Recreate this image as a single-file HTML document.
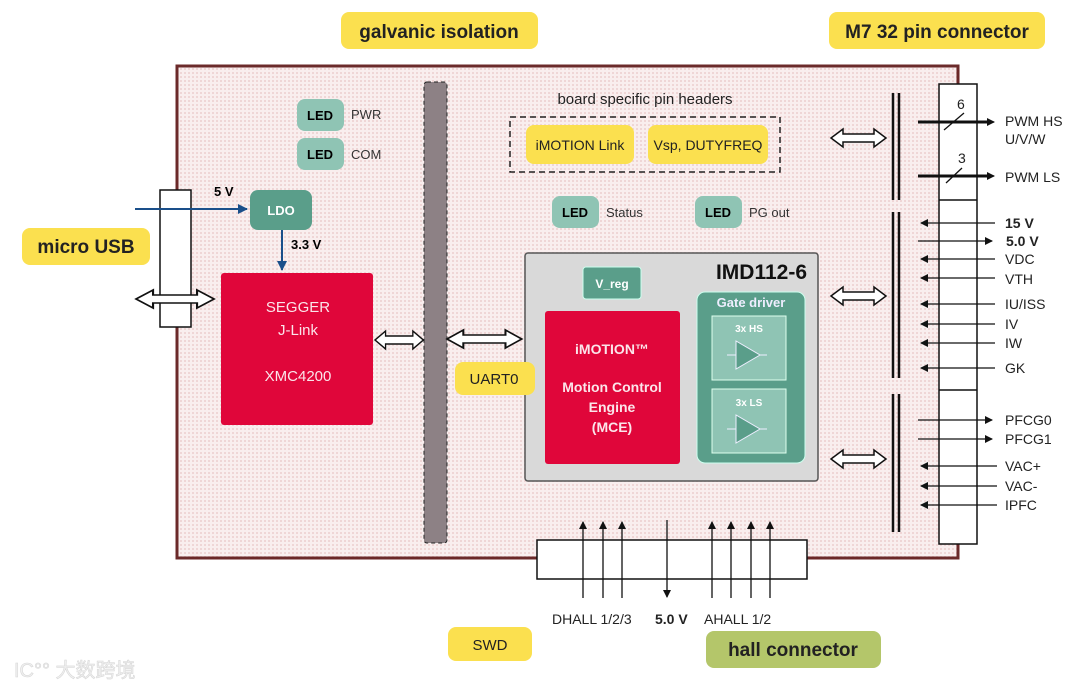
<!DOCTYPE html>
<html><head><meta charset="utf-8"><style>
html,body{margin:0;padding:0;background:#fff;width:1080px;height:691px;overflow:hidden}
svg{display:block}
text{font-family:"Liberation Sans","Noto Sans CJK SC",sans-serif}
</style></head><body>
<svg width="1080" height="691" viewBox="0 0 1080 691" xmlns="http://www.w3.org/2000/svg">
<defs>
<pattern id="dots" width="4" height="4" patternUnits="userSpaceOnUse">
<rect width="4" height="4" fill="#f9eeee"/><rect width="2" height="2" fill="#efd6d6"/>
</pattern>
<marker id="ab" markerWidth="8" markerHeight="8" refX="7" refY="4" orient="auto" markerUnits="userSpaceOnUse"><path d="M0,0 L8,4 L0,8z" fill="#111"/></marker>
<marker id="abl" markerWidth="10" markerHeight="10" refX="9" refY="5" orient="auto" markerUnits="userSpaceOnUse"><path d="M0,0 L10,5 L0,10z" fill="#1a4f8a"/></marker>
<g id="dbl"><path d="M0,0 l12,-9 v5 h31 v-5 l12,9 l-12,9 v-5 h-31 v5z" fill="#fff" stroke="#111" stroke-width="1.5"/></g>
</defs>

<!-- board -->
<rect x="177" y="66" width="781" height="492" fill="url(#dots)" stroke="#6b2a2a" stroke-width="3"/>

<!-- labels top -->
<rect x="341" y="12" width="197" height="37" rx="8" fill="#fbe04f"/>
<text x="439" y="38" font-size="19" font-weight="bold" text-anchor="middle" fill="#222">galvanic isolation</text>
<rect x="829" y="12" width="216" height="37" rx="8" fill="#fbe04f"/>
<text x="937" y="38" font-size="19" font-weight="bold" text-anchor="middle" fill="#222">M7 32 pin connector</text>
<rect x="22" y="228" width="128" height="37" rx="8" fill="#fbe04f"/>
<text x="86" y="253" font-size="19" font-weight="bold" text-anchor="middle" fill="#222">micro USB</text>
<rect x="448" y="627" width="84" height="34" rx="8" fill="#fbe04f"/>
<text x="490" y="650" font-size="15" text-anchor="middle" fill="#222">SWD</text>
<rect x="706" y="631" width="175" height="37" rx="8" fill="#b4c66a"/>
<text x="793" y="656" font-size="19" font-weight="bold" text-anchor="middle" fill="#222">hall connector</text>

<!-- LEDs -->
<g font-size="13">
<rect x="297" y="99" width="47" height="32" rx="8" fill="#8fc4b4"/><text x="320" y="120" font-weight="bold" text-anchor="middle">LED</text><text x="351" y="119" fill="#333">PWR</text>
<rect x="297" y="138" width="47" height="32" rx="8" fill="#8fc4b4"/><text x="320" y="159" font-weight="bold" text-anchor="middle">LED</text><text x="351" y="159" fill="#333">COM</text>
<rect x="552" y="196" width="47" height="32" rx="8" fill="#8fc4b4"/><text x="575" y="217" font-weight="bold" text-anchor="middle">LED</text><text x="606" y="217" fill="#333">Status</text>
<rect x="695" y="196" width="47" height="32" rx="8" fill="#8fc4b4"/><text x="718" y="217" font-weight="bold" text-anchor="middle">LED</text><text x="749" y="217" fill="#333">PG out</text>
</g>

<!-- micro usb connector -->
<rect x="160" y="190" width="31" height="137" fill="#fff" stroke="#111" stroke-width="1.5"/>
<use href="#dbl" transform="translate(136,299) scale(1.42,1)"/>

<!-- LDO -->
<rect x="250" y="190" width="62" height="40" rx="8" fill="#5a9e8a"/>
<text x="281" y="215" font-size="13" font-weight="bold" fill="#fff" text-anchor="middle">LDO</text>
<line x1="135" y1="209" x2="247" y2="209" stroke="#1a4f8a" stroke-width="2" marker-end="url(#abl)"/>
<text x="214" y="196" font-size="13" font-weight="bold">5 V</text>
<line x1="282" y1="230" x2="282" y2="270" stroke="#1a4f8a" stroke-width="2" marker-end="url(#abl)"/>
<text x="291" y="249" font-size="13" font-weight="bold">3.3 V</text>

<!-- SEGGER -->
<rect x="221" y="273" width="152" height="152" rx="3" fill="#e0063a"/>
<g fill="#fbe5ea" font-size="15" text-anchor="middle">
<text x="298" y="312">SEGGER</text><text x="298" y="335">J-Link</text><text x="298" y="381">XMC4200</text></g>

<!-- isolation bar -->
<rect x="424" y="82" width="23" height="461" rx="3" fill="#8d8185" stroke="#222" stroke-width="1" stroke-dasharray="4,3"/>
<use href="#dbl" transform="translate(375,340) scale(0.88,1)"/>
<use href="#dbl" transform="translate(447,339) scale(1.36,1)"/>

<!-- pin headers -->
<text x="645" y="104" font-size="15" text-anchor="middle" fill="#222">board specific pin headers</text>
<rect x="510" y="117" width="270" height="55" fill="none" stroke="#222" stroke-width="1.5" stroke-dasharray="6,4"/>
<rect x="526" y="125" width="108" height="39" rx="8" fill="#fbe04f"/>
<text x="580" y="150" font-size="14" text-anchor="middle" fill="#222">iMOTION Link</text>
<rect x="648" y="125" width="120" height="39" rx="8" fill="#fbe04f"/>
<text x="708" y="150" font-size="14" text-anchor="middle" fill="#222">Vsp, DUTYFREQ</text>

<!-- IMD -->
<rect x="525" y="253" width="293" height="228" rx="3" fill="#d9d9d9" stroke="#555" stroke-width="1.5"/>
<text x="807" y="279" font-size="21" font-weight="bold" text-anchor="end" fill="#111">IMD112-6</text>
<rect x="583" y="267" width="58" height="32" rx="3" fill="#5a9e8a" stroke="#cfe" stroke-width="1"/>
<text x="612" y="288" font-size="12" font-weight="bold" fill="#fff" text-anchor="middle">V_reg</text>
<rect x="545" y="311" width="135" height="153" rx="3" fill="#e0063a"/>
<g fill="#fbe5ea" font-size="14" font-weight="bold" text-anchor="middle">
<text x="612" y="354">iMOTION™</text><text x="612" y="392">Motion Control</text><text x="612" y="412">Engine</text><text x="612" y="432">(MCE)</text></g>
<rect x="697" y="292" width="108" height="171" rx="8" fill="#5a9e8a" stroke="#cfe" stroke-width="1"/>
<text x="751" y="307" font-size="13" font-weight="bold" fill="#eef" text-anchor="middle">Gate driver</text>
<rect x="712" y="316" width="74" height="64" fill="#8fc4b4" stroke="#dfe" stroke-width="1"/>
<text x="749" y="332" font-size="10" font-weight="bold" fill="#fff" text-anchor="middle">3x HS</text>
<path d="M727,355 h9 M736,341 v28 l24,-14z M760,355 h7" fill="#5a9e8a" stroke="#eef" stroke-width="1"/>
<rect x="712" y="389" width="74" height="64" fill="#8fc4b4" stroke="#dfe" stroke-width="1"/>
<text x="749" y="406" font-size="10" font-weight="bold" fill="#fff" text-anchor="middle">3x LS</text>
<path d="M727,429 h9 M736,415 v28 l24,-14z M760,429 h7" fill="#5a9e8a" stroke="#eef" stroke-width="1"/>

<rect x="455" y="362" width="80" height="33" rx="8" fill="#fbe04f"/>
<text x="494" y="384" font-size="15" text-anchor="middle" fill="#222">UART0</text>

<!-- right side double arrows & bars -->
<use href="#dbl" transform="translate(831,138)"/>
<use href="#dbl" transform="translate(831,296)"/>
<use href="#dbl" transform="translate(831,459)"/>
<g stroke="#111" stroke-width="2.5">
<line x1="893" y1="93" x2="893" y2="200"/><line x1="899" y1="93" x2="899" y2="200"/>
<line x1="893" y1="212" x2="893" y2="378"/><line x1="899" y1="212" x2="899" y2="378"/>
<line x1="893" y1="394" x2="893" y2="532"/><line x1="899" y1="394" x2="899" y2="532"/>
</g>

<!-- connector -->
<rect x="939" y="84" width="38" height="460" fill="#fff" stroke="#111" stroke-width="1.5"/>
<line x1="939" y1="200" x2="977" y2="200" stroke="#111" stroke-width="1.5"/>
<line x1="939" y1="390" x2="977" y2="390" stroke="#111" stroke-width="1.5"/>
<g stroke="#111" stroke-width="1.3">
<line x1="918" y1="122" x2="990" y2="122" stroke-width="3"/><line x1="918" y1="122" x2="994" y2="122" marker-end="url(#ab)"/>
<line x1="944" y1="130" x2="964" y2="113"/>
<line x1="918" y1="176" x2="990" y2="176" stroke-width="3"/><line x1="918" y1="176" x2="994" y2="176" marker-end="url(#ab)"/>
<line x1="946" y1="183" x2="962" y2="168"/>
<line x1="995" y1="223" x2="921" y2="223" marker-end="url(#ab)"/>
<line x1="918" y1="241" x2="992" y2="241" marker-end="url(#ab)"/>
<line x1="995" y1="259" x2="921" y2="259" marker-end="url(#ab)"/>
<line x1="995" y1="278" x2="921" y2="278" marker-end="url(#ab)"/>
<line x1="995" y1="304" x2="921" y2="304" marker-end="url(#ab)"/>
<line x1="995" y1="324" x2="921" y2="324" marker-end="url(#ab)"/>
<line x1="995" y1="343" x2="921" y2="343" marker-end="url(#ab)"/>
<line x1="995" y1="368" x2="921" y2="368" marker-end="url(#ab)"/>
<line x1="918" y1="420" x2="992" y2="420" marker-end="url(#ab)"/>
<line x1="918" y1="439" x2="992" y2="439" marker-end="url(#ab)"/>
<line x1="997" y1="466" x2="921" y2="466" marker-end="url(#ab)"/>
<line x1="997" y1="486" x2="921" y2="486" marker-end="url(#ab)"/>
<line x1="997" y1="505" x2="921" y2="505" marker-end="url(#ab)"/>
</g>
<g font-size="14" fill="#222">
<text x="957" y="109">6</text><text x="958" y="163">3</text>
<text x="1005" y="126">PWM HS</text><text x="1005" y="144">U/V/W</text>
<text x="1005" y="182">PWM LS</text>
<text x="1005" y="228" font-weight="bold">15 V</text>
<text x="1006" y="246" font-weight="bold">5.0 V</text>
<text x="1005" y="264">VDC</text><text x="1005" y="284">VTH</text>
<text x="1005" y="309">IU/ISS</text><text x="1005" y="329">IV</text>
<text x="1005" y="348">IW</text><text x="1005" y="373">GK</text>
<text x="1005" y="425">PFCG0</text><text x="1005" y="444">PFCG1</text>
<text x="1005" y="471">VAC+</text><text x="1005" y="491">VAC-</text><text x="1005" y="510">IPFC</text>
</g>

<!-- hall connector -->
<rect x="537" y="540" width="270" height="39" fill="#fff" stroke="#111" stroke-width="1.5"/>
<g stroke="#111" stroke-width="1.3">
<line x1="583" y1="598" x2="583" y2="522" marker-end="url(#ab)"/>
<line x1="603" y1="598" x2="603" y2="522" marker-end="url(#ab)"/>
<line x1="622" y1="598" x2="622" y2="522" marker-end="url(#ab)"/>
<line x1="667" y1="520" x2="667" y2="597" marker-end="url(#ab)"/>
<line x1="712" y1="598" x2="712" y2="522" marker-end="url(#ab)"/>
<line x1="731" y1="598" x2="731" y2="522" marker-end="url(#ab)"/>
<line x1="751" y1="598" x2="751" y2="522" marker-end="url(#ab)"/>
<line x1="770" y1="598" x2="770" y2="522" marker-end="url(#ab)"/>
</g>
<g font-size="14" fill="#222">
<text x="552" y="624">DHALL 1/2/3</text>
<text x="655" y="624" font-weight="bold">5.0 V</text>
<text x="704" y="624">AHALL 1/2</text>
</g>

<!-- watermark -->
<text x="14" y="677" font-size="20" fill="#f0f0f0" stroke="#d8d8d8" stroke-width="0.6">IC°° 大数跨境</text>
</svg>
</body></html>
